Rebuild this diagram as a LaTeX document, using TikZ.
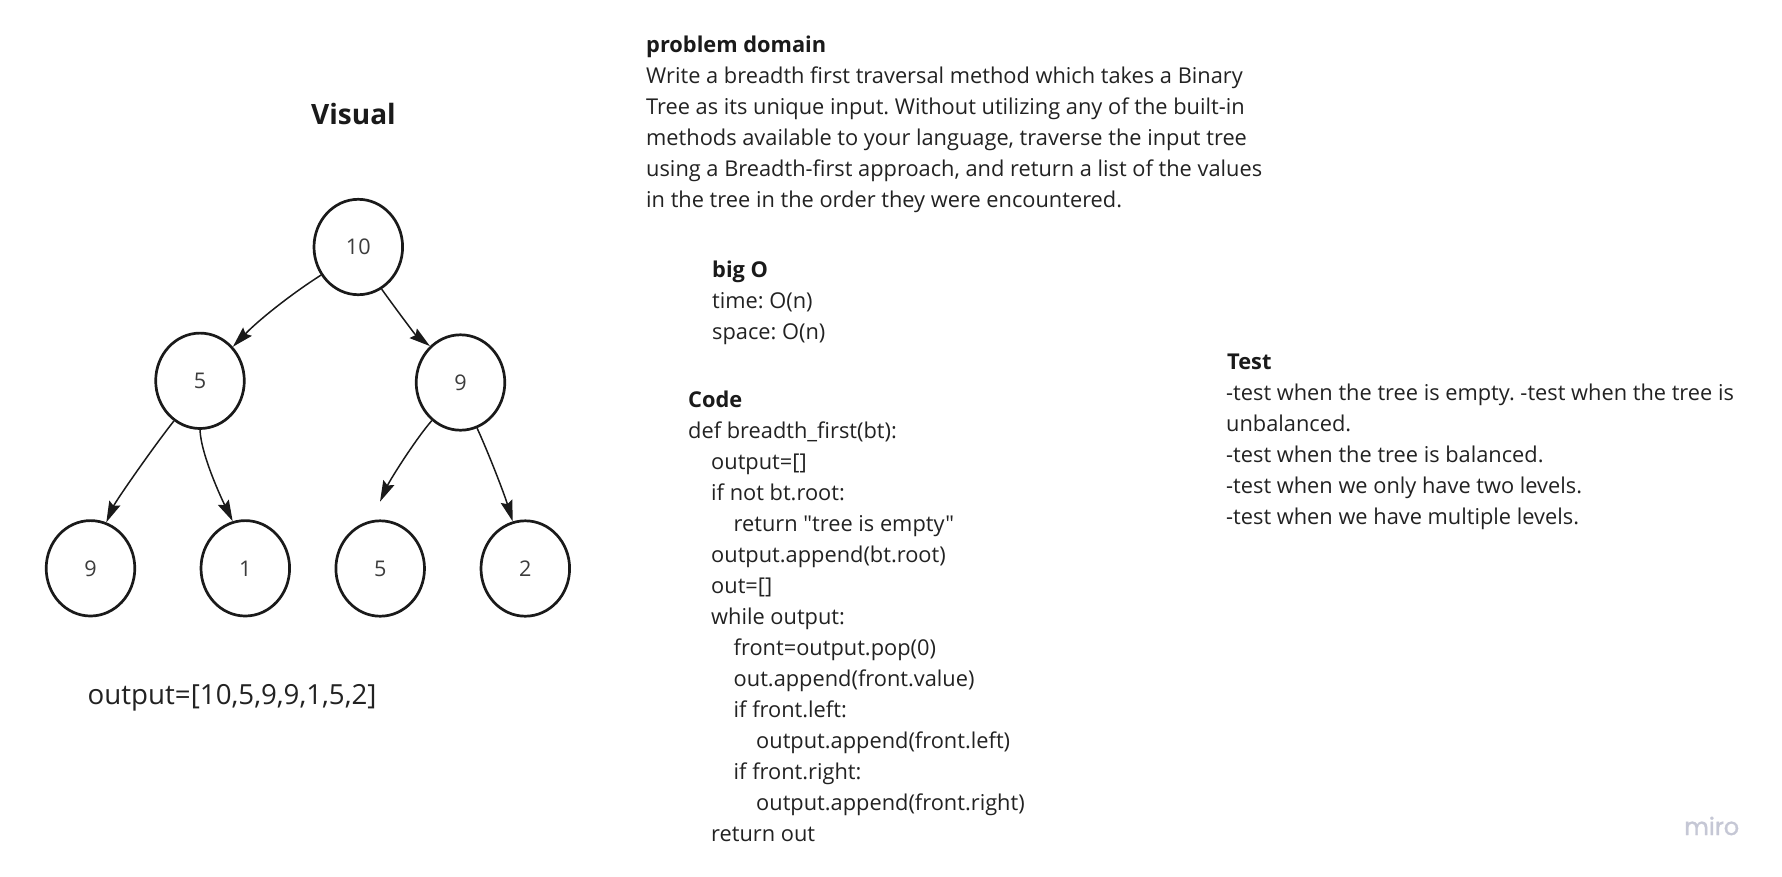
\documentclass[tikz,border=0pt]{standalone}
\usepackage{fontspec}
\setmainfont{Open Sans}[Ligatures=TeXOff]
\newfontfamily\mirofont{Poppins}[FakeBold=1.2]
\usetikzlibrary{shapes.geometric,arrows.meta}
\definecolor{ink}{HTML}{1A1A1A}
\definecolor{txt}{HTML}{222222}
\definecolor{lbl}{HTML}{3C3C3C}
\definecolor{mirogray}{HTML}{C5C7D5}
\frenchspacing
\begin{document}
\begin{tikzpicture}[x=1pt,y=-1pt,
  tnode/.style={draw=ink, line width=2.7pt, ellipse, minimum width=88.6pt, minimum height=95.4pt, inner sep=0pt, font=\fontsize{21.6}{26}\selectfont, text=lbl},
  treearrow/.style={draw=ink, line width=1.5pt, -{Stealth[length=21pt,width=12pt,inset=3pt]}},
  body/.style={anchor=base west, inner sep=0pt, text=txt, font=\fontsize{21.8}{31}\selectfont},
  head/.style={anchor=base west, inner sep=0pt, text=ink, font=\fontsize{21.8}{31}\selectfont\bfseries}]
\fill[white] (0,0) rectangle (1782,876);
\useasboundingbox (0,0) rectangle (1782,876);

% ---- tree ----
\node[anchor=base, inner sep=0pt, text=ink, font=\fontsize{28}{32}\selectfont\bfseries] (vis) at (353.5,124.8) {Visual};
\node[tnode] (n10) at (358.3,247) {10};
\node[tnode] (n5) at (200,380.8) {5};
\node[tnode] (n9) at (460.5,382.5) {9};
\node[tnode] (m9) at (90.5,568.3) {9};
\node[tnode] (m1) at (245.3,568.3) {1};
\node[tnode] (m5) at (380.2,568.5) {5};
\node[tnode] (m2) at (525.3,568.5) {2};
\coordinate (free) at (380,501.7);

\draw[treearrow] (n10.217) .. controls (292.6,293.1) and (259.5,319.2) .. (n5.46);
\draw[treearrow] (n10.299) .. controls (392.5,304.3) and (415.1,334.7) .. (n9.130);
\draw[treearrow] (n5.237) .. controls (155.9,443.4) and (115.9,500.7) .. (m9.71);
\draw[treearrow] (n5.270) .. controls (201,455) and (222.2,500) .. (m1.105);
\draw[treearrow] (n9.233) .. controls (416.2,438.4) and (390.5,479) .. (free);
\draw[treearrow] (n9.290) .. controls (489,454.2) and (504.3,494) .. (m2.105);

\node[anchor=base west, inner sep=0pt, text=txt, font=\fontsize{27.7}{33}\selectfont] (outp) at (87.5,704) {output=[10,5,9,9,1,5,2]};

% ---- problem domain ----
\node[head] (pdh) at (646,52.2) {problem domain};
\node[body] (pd1) at (646,83.5) {Write a breadth first traversal method which takes a Binary};
\node[body] (pd2) at (646,114.5) {Tree as its unique input. Without utilizing any of the built-in};
\node[body] (pd3) at (646,145.5) {methods available to your language, traverse the input tree};
\node[body] (pd4) at (646,176.5) {using a Breadth-first approach, and return a list of the values};
\node[body] (pd5) at (646,207.5) {in the tree in the order they were encountered.};

% ---- big O ----
\node[head] (boh) at (712,277.8) {big O};
\node[body] (bo1) at (712,308.8) {time: O(n)};
\node[body] (bo2) at (712,339.8) {space: O(n)};

% ---- code ----
\node[head] (ch) at (688,407.5) {Code};
\node[body] (c1) at (688,438.5) {def breadth\_first(bt):};
\node[body] (c2) at (711,469.5) {output=[]};
\node[body] (c3) at (711,500.5) {if not bt.root:};
\node[body] (c4) at (733.5,531.5) {return "tree is empty"};
\node[body] (c5) at (711,562.5) {output.append(bt.root)};
\node[body] (c6) at (711,593.5) {out=[]};
\node[body] (c7) at (711,624.5) {while output:};
\node[body] (c8) at (733.5,655.5) {front=output.pop(0)};
\node[body] (c9) at (733.5,686.5) {out.append(front.value)};
\node[body] (c10) at (733.5,717.5) {if front.left:};
\node[body] (c11) at (756,748.5) {output.append(front.left)};
\node[body] (c12) at (733.5,779.5) {if front.right:};
\node[body] (c13) at (756,810.5) {output.append(front.right)};
\node[body] (c14) at (711,841.5) {return out};

% ---- test ----
\node[head] (th) at (1227,369.3) {Test};
\node[body] (t1) at (1226,400.3) {-test when the tree is empty. -test when the tree is};
\node[body] (t2) at (1226,431.2) {unbalanced.};
\node[body] (t3) at (1226,462.2) {-test when the tree is balanced.};
\node[body] (t4) at (1226,493.1) {-test when we only have two levels.};
\node[body] (t5) at (1226,524.1) {-test when we have multiple levels.};

% ---- logo ----
\node[anchor=base west, inner sep=0pt, text=mirogray, font=\mirofont\fontsize{24}{28}\selectfont] (miro) at (1684,835) {miro};
\end{tikzpicture}
\end{document}
